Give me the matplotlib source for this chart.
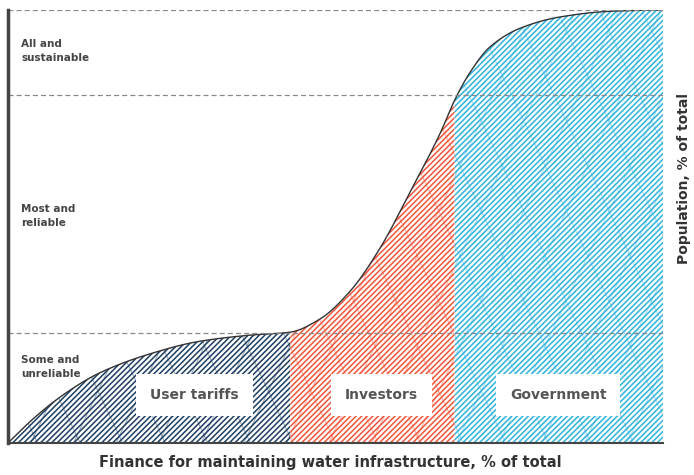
import numpy as np
import matplotlib.pyplot as plt

# curve (x: finance %, y: population %)
curve_x = [0, 4.0, 8.5, 14.0, 21.7, 29.3, 36.9, 43.1, 47.6, 52.2, 56.8, 61.4, 66.0, 68.2,
           70.5, 73.6, 78.2, 84.3, 91.9, 100]
curve_y = [0, 5.8, 11.2, 16.2, 20.6, 23.5, 24.9, 25.6, 28.6, 35.0, 45.0, 58.0, 71.6, 79.2,
           85.5, 91.5, 95.8, 98.4, 99.7, 100]

splits = [0, 43.1, 68.2, 100]
sources = ['User tariffs', 'Investors', 'Government']
colors = ['#1d3f63', '#f2553a', '#2fb3dc']
label_pos = [(28.5, 11), (57, 11), (84, 11)]

levels = [25.4, 80.4, 100]
level_labels = ['Some and\nunreliable', 'Most and\nreliable', 'All and\nsustainable']
level_text_y = [17.5, 52.5, 90.5]


def pchip(x, y, xn):
    # monotone cubic so the curve stays smooth without overshooting
    x = np.asarray(x, float)
    y = np.asarray(y, float)
    h = np.diff(x)
    d = np.diff(y) / h
    m = np.zeros_like(y)
    for k in range(1, len(x) - 1):
        if d[k - 1] * d[k] > 0:
            w1 = 2 * h[k] + h[k - 1]
            w2 = h[k] + 2 * h[k - 1]
            m[k] = (w1 + w2) / (w1 / d[k - 1] + w2 / d[k])
    m[0] = d[0]
    m[-1] = 0
    idx = np.clip(np.searchsorted(x, xn) - 1, 0, len(x) - 2)
    t = (xn - x[idx]) / h[idx]
    h00 = 2 * t**3 - 3 * t**2 + 1
    h10 = t**3 - 2 * t**2 + t
    h01 = -2 * t**3 + 3 * t**2
    h11 = t**3 - t**2
    return h00 * y[idx] + h10 * h[idx] * m[idx] + h01 * y[idx + 1] + h11 * h[idx] * m[idx + 1]


plt.rcParams['hatch.linewidth'] = 1.1
fig = plt.figure(figsize=(6.94, 4.75), dpi=100)
ax = fig.add_axes([8 / 694, 32 / 475, 655 / 694, 433 / 475])

xs = np.linspace(0, 100, 800)
ys = pchip(curve_x, curve_y, xs)

for i, name in enumerate(sources):
    lo, hi = splits[i], splits[i + 1]
    m = (xs > lo) & (xs < hi)
    xx = np.concatenate([[lo], xs[m], [hi]])
    yy = pchip(curve_x, curve_y, xx)
    poly = ax.fill_between(xx, 0, yy, facecolor='white', edgecolor=colors[i],
                           hatch='//////', linewidth=0)
    # diamond-like texture over the hatch
    for k in np.arange(-120, 220, 6.5):
        for sl in (3.2, -3.2):
            lx = np.array([k, k + 40])
            ly = (lx - k) * sl if sl > 0 else (lx - k - 40) * sl
            ln, = ax.plot(lx, ly, color=colors[i], lw=0.8, alpha=0.45)
            ln.set_clip_path(poly.get_paths()[0], poly.get_transform())
    ax.text(label_pos[i][0], label_pos[i][1], name, ha='center', va='center', fontsize=10,
            color='#555555', fontweight='semibold',
            bbox=dict(facecolor='white', edgecolor='none', pad=10))

ax.plot(xs, ys, color='#333333', lw=1)

for lv, lab, ty in zip(levels, level_labels, level_text_y):
    ax.axhline(lv, color='#888888', lw=0.9, ls=(0, (4, 2.5)))
    ax.text(2.0, ty, lab, ha='left', va='center', fontsize=7.5, fontweight='bold',
            color='#444444', linespacing=1.5)

ax.set_xlim(0, 100)
ax.set_ylim(0, 100)
ax.set_xticks([])
ax.set_yticks([])
for s in ['top', 'right']:
    ax.spines[s].set_visible(False)
ax.spines['left'].set_linewidth(2.5)
ax.spines['left'].set_color('#444444')
ax.spines['bottom'].set_linewidth(1.5)
ax.spines['bottom'].set_color('#444444')

fig.text(330 / 694, 1 - 463 / 475, 'Finance for maintaining water infrastructure, % of total',
         ha='center', va='center', fontsize=10.5, fontweight='bold', color='#333333')
fig.text(684 / 694, 1 - 178 / 475, 'Population, % of total', ha='center', va='center',
         rotation=90, fontsize=10, fontweight='bold', color='#333333')

fig.savefig('out.png', dpi=100)
